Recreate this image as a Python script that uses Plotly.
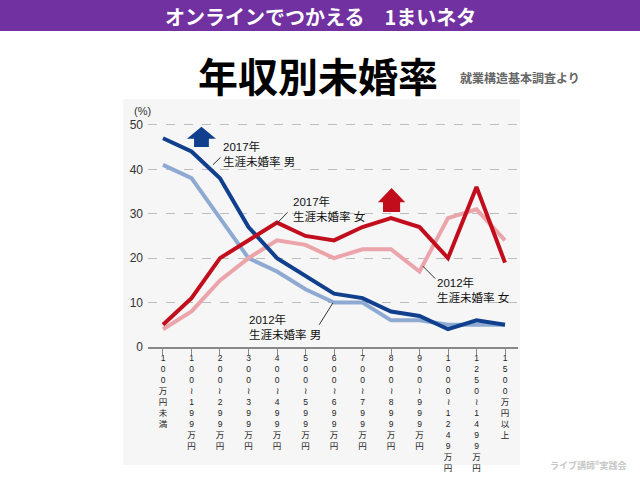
import plotly.graph_objects as go

# ---------------- data ----------------
categories = ["100万円未満", "100～199万円", "200～299万円", "300～399万円",
              "400～499万円", "500～599万円", "600～699万円", "700～799万円",
              "800～899万円", "900～999万円", "1000～1249万円", "1250～1499万円",
              "1500万円以上"]
male_2012 = [41, 38, 29, 20, 17, 13, 10, 10, 6, 6, 5, 5, 5]
male_2017 = [47, 44, 38, 27, 20, 16, 12, 11, 8, 7, 4, 6, 5]
female_2012 = [4, 8, 15, 20, 24, 23, 20, 22, 22, 17, 29, 31, 24]
female_2017 = [5, 11, 20, 24, 28, 25, 24, 27, 29, 27, 20, 36, 19]
y_ticks = [0, 10, 20, 30, 40, 50]

header_text = "オンラインでつかえる　1まいネタ"
title_text = "年収別未婚率"
subtitle_text = "就業構造基本調査より"
credit_text = "ライブ講師®実践会"

# ---------------- styles ----------------
C_MALE17 = "#103f8e"
C_MALE12 = "#8eaad3"
C_FEM17 = "#c20e1c"
C_FEM12 = "#eca4ab"
FONT = "Liberation Sans, Noto Sans CJK JP, sans-serif"
CJK = "Noto Sans CJK JP, sans-serif"

W_FIG, H_FIG = 640, 480
L, R, T, B = 148, 122, 120, 133
PW = W_FIG - L - R
PH = H_FIG - T - B


def px_x(px):
    return (px - L) / PW


def px_y(py):
    return (H_FIG - B - py) / PH


x_idx = list(range(len(categories)))
tick_text = ["<br>".join(("≀" if ch == "～" else ch) for ch in cat) for cat in categories]

fig = go.Figure()
series = [
    (male_2012, C_MALE12, "2012年 男"),
    (female_2012, C_FEM12, "2012年 女"),
    (male_2017, C_MALE17, "2017年 男"),
    (female_2017, C_FEM17, "2017年 女"),
]
for vals, col, name in series:
    fig.add_trace(go.Scatter(x=x_idx, y=vals, mode="lines", name=name,
                             line=dict(color=col, width=4, shape="linear"),
                             hoverinfo="skip"))

shapes = []
# panel background
shapes.append(dict(type="rect", xref="paper", yref="paper",
                   x0=px_x(123), x1=px_x(520), y0=px_y(465), y1=px_y(99),
                   fillcolor="#f6f6f6", line=dict(width=0), layer="below"))
# header band
shapes.append(dict(type="rect", xref="paper", yref="paper",
                   x0=px_x(0), x1=px_x(640), y0=px_y(31), y1=px_y(0),
                   fillcolor="#7131a1", line=dict(width=0), layer="below"))


def arrow(cx, tip, base, bottom, hw, sw, color):
    p = (f"M {cx - sw} {bottom} L {cx - sw} {base} L {cx - hw} {base} "
         f"L {cx} {tip} L {cx + hw} {base} L {cx + sw} {base} L {cx + sw} {bottom} Z")
    return dict(type="path", xref="x", yref="y", path=p, fillcolor=color,
                line=dict(width=0), layer="above")


shapes.append(arrow(1.35, 49.6, 46.9, 45.0, 0.51, 0.26, C_MALE17))
shapes.append(arrow(8.02, 35.8, 32.6, 30.4, 0.48, 0.30, C_FEM17))

# series labels: (line1, line2, x_left, y_top, leader x0, y0, x1, y1)
labels = [
    ("2017年", "生涯未婚率 男", 2.04, 47.0, 1.75, 41.0, 2.02, 42.7),
    ("2017年", "生涯未婚率 女", 4.50, 34.6, 3.96, 27.6, 4.37, 30.3),
    ("2012年", "生涯未婚率 男", 2.95, 8.2, 5.96, 9.9, 5.48, 5.0),
    ("2012年", "生涯未婚率 女", 9.56, 16.4, 9.12, 18.2, 9.55, 15.4),
]
annotations = []
for l1, l2, xl, yt, lx0, ly0, lx1, ly1 in labels:
    annotations.append(dict(x=xl, y=yt, xref="x", yref="y",
                            text=f"{l1}<br>{l2}", showarrow=False,
                            xanchor="left", yanchor="top", align="left",
                            font=dict(family=FONT, size=11.5, color="#111")))
    shapes.append(dict(type="line", xref="x", yref="y", x0=lx0, y0=ly0, x1=lx1, y1=ly1,
                       line=dict(color="#333", width=1), layer="above"))

# (%) unit
annotations.append(dict(x=px_x(142), y=px_y(111), xref="paper", yref="paper",
                        text="(%)", showarrow=False, xanchor="center", yanchor="middle",
                        font=dict(family=FONT, size=11, color="#333")))
# header text
annotations.append(dict(x=px_x(320), y=px_y(16), xref="paper", yref="paper",
                        text=f"<b>{header_text}</b>", showarrow=False,
                        xanchor="center", yanchor="middle",
                        font=dict(family=CJK, size=20, color="white")))
# title
annotations.append(dict(x=px_x(318), y=px_y(75), xref="paper", yref="paper",
                        text=f"<b>{title_text}</b>", showarrow=False,
                        xanchor="center", yanchor="middle",
                        font=dict(family=CJK, size=40, color="black")))
# subtitle
annotations.append(dict(x=px_x(520), y=px_y(77), xref="paper", yref="paper",
                        text=f"<b>{subtitle_text}</b>", showarrow=False,
                        xanchor="center", yanchor="middle",
                        font=dict(family=CJK, size=12, color="#666")))
# credit
annotations.append(dict(x=px_x(588), y=px_y(465), xref="paper", yref="paper",
                        text=f"<b>{credit_text}</b>", showarrow=False,
                        xanchor="center", yanchor="middle",
                        font=dict(family=CJK, size=9, color="#c8c8c8")))

fig.update_layout(
    width=W_FIG, height=H_FIG,
    margin=dict(l=L, r=R, t=T, b=B, pad=0, autoexpand=False),
    paper_bgcolor="white", plot_bgcolor="rgba(0,0,0,0)",
    showlegend=False,
    shapes=shapes, annotations=annotations,
    xaxis=dict(range=[-0.526, 12.456], tickvals=x_idx, ticktext=tick_text,
               tickangle=0, showticklabels=True, automargin=False,
               tickfont=dict(family=FONT, size=8.5, color="#222"),
               ticks="outside", ticklen=6, tickcolor="#888", tickwidth=1,
               ticklabelstandoff=-4,
               showline=True, linecolor="#888", linewidth=1.5,
               showgrid=False, zeroline=False, fixedrange=True),
    yaxis=dict(range=[0, 51.1], tickvals=y_ticks, showline=False, automargin=False,
               showgrid=True, gridcolor="#bdbdbd", gridwidth=1, griddash="dash",
               zeroline=False, ticks="", ticklabelstandoff=4,
               tickfont=dict(family=FONT, size=12, color="#333"), fixedrange=True),
)

fig.write_html("out.html")
